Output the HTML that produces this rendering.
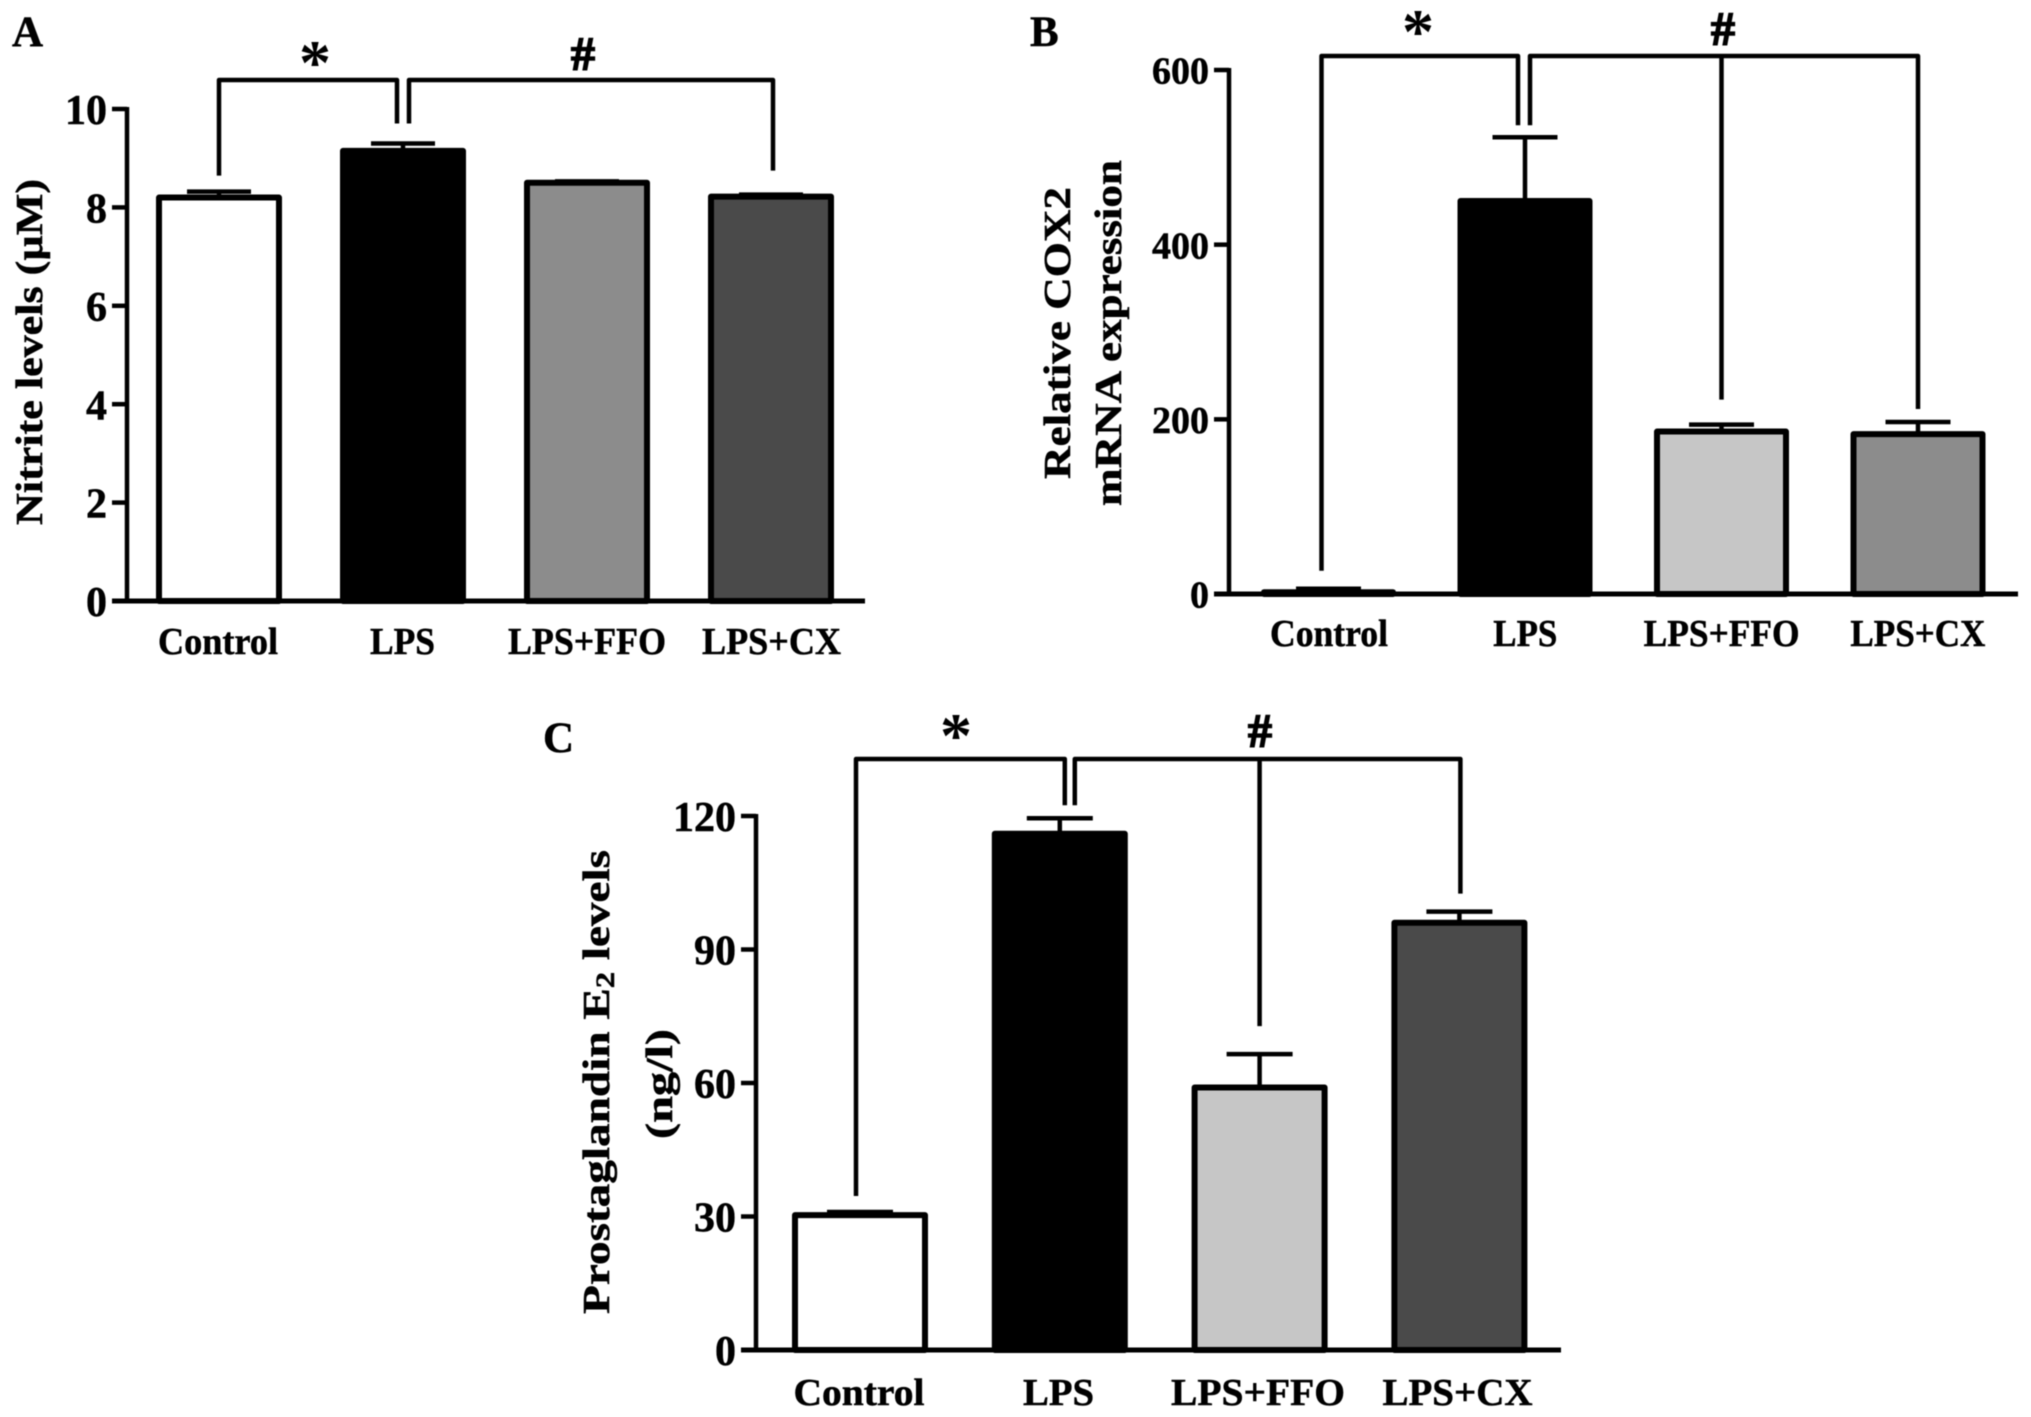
<!DOCTYPE html>
<html lang="en">
<head>
<meta charset="utf-8">
<title>Nitrite, COX2 and Prostaglandin E2 levels</title>
<style>
html,body{margin:0;padding:0;background:#fff;}
svg{display:block;filter:blur(0.6px);}
text{font-family:"Liberation Serif",serif;font-weight:bold;fill:#000;stroke:#000;stroke-width:0.5px;}
text.mark{stroke-width:1.6px;}
text.star{stroke-width:0;}
</style>
</head>
<body>
<svg id="figure" xmlns="http://www.w3.org/2000/svg" width="2031" height="1417" viewBox="0 0 2031 1417">
  <rect width="2031" height="1417" fill="#fff"/>

  <g id="panel-a">
    <text x="12" y="46" font-size="43">A</text>
    <text x="30" y="352" font-size="38" text-anchor="middle" textLength="346" lengthAdjust="spacingAndGlyphs" dominant-baseline="central" transform="rotate(-90 30 352)">Nitrite levels (µM)</text>
    <text class="star" x="315" y="84" font-size="64" text-anchor="middle">*</text>
    <text class="mark" x="583" y="70" font-size="48" text-anchor="middle">#</text>
  </g>

  <g id="panel-b">
    <text x="1030" y="46" font-size="43">B</text>
    <text x="1058" y="333" font-size="38" text-anchor="middle" textLength="292" lengthAdjust="spacingAndGlyphs" dominant-baseline="central" transform="rotate(-90 1058 333)">Relative COX2</text>
    <text x="1109" y="333" font-size="38" text-anchor="middle" textLength="346" lengthAdjust="spacingAndGlyphs" dominant-baseline="central" transform="rotate(-90 1109 333)">mRNA expression</text>
    <text class="star" x="1418" y="53" font-size="64" text-anchor="middle">*</text>
    <text class="mark" x="1723" y="45" font-size="48" text-anchor="middle">#</text>
  </g>

  <g id="panel-c">
    <text x="543" y="752" font-size="43">C</text>
    <text x="597" y="1082" font-size="38" text-anchor="middle" textLength="464" lengthAdjust="spacingAndGlyphs" dominant-baseline="central" transform="rotate(-90 597 1082)">Prostaglandin E<tspan font-size="26" dy="8">2</tspan><tspan dy="-8"> levels</tspan></text>
    <text x="660" y="1084" font-size="38" text-anchor="middle" textLength="110" lengthAdjust="spacingAndGlyphs" dominant-baseline="central" transform="rotate(-90 660 1084)">(ng/l)</text>
    <text class="star" x="956" y="757" font-size="64" text-anchor="middle">*</text>
    <text class="mark" x="1260" y="747" font-size="48" text-anchor="middle">#</text>
  </g>
</svg>

<script>
const categories = ["Control", "LPS", "LPS+FFO", "LPS+CX"];

const nitriteValues = [8.2, 9.15, 8.5, 8.22];
const nitriteErrorTops = [8.32, 9.3, 8.53, 8.26];
const nitriteTicks = [0, 2, 4, 6, 8, 10];
const nitriteFills = ["#ffffff", "#000000", "#8c8c8c", "#4a4a4a"];

const cox2Values = [2, 450, 186, 183];
const cox2ErrorTops = [6, 523, 194, 197];
const cox2Ticks = [0, 200, 400, 600];
const cox2Fills = ["#ffffff", "#000000", "#c6c6c6", "#8c8c8c"];

const pge2Values = [30.3, 116, 59, 96];
const pge2ErrorTops = [31, 119.5, 66.5, 98.5];
const pge2Ticks = [0, 30, 60, 90, 120];
const pge2Fills = ["#ffffff", "#000000", "#c6c6c6", "#4a4a4a"];

const SVGNS = "http://www.w3.org/2000/svg";

function line(parent, x1, y1, x2, y2, sw, name) {
  const el = document.createElementNS(SVGNS, "line");
  el.setAttribute("x1", x1);
  el.setAttribute("y1", y1);
  el.setAttribute("x2", x2);
  el.setAttribute("y2", y2);
  el.setAttribute("stroke", "#000");
  el.setAttribute("stroke-width", sw);
  
  
  parent.appendChild(el);
  return el;
}

function label(parent, str, x, y, size, anchor, length, name) {
  const el = document.createElementNS(SVGNS, "text");
  el.setAttribute("x", x);
  el.setAttribute("y", y);
  el.setAttribute("font-size", size);
  el.setAttribute("text-anchor", anchor);
  if (length) {
    el.setAttribute("textLength", length);
    el.setAttribute("lengthAdjust", "spacingAndGlyphs");
  }
  el.textContent = str;
  
  
  parent.appendChild(el);
  return el;
}

function legPath(parent, d, name) {
  const el = document.createElementNS(SVGNS, "path");
  el.setAttribute("d", d);
  el.setAttribute("fill", "none");
  el.setAttribute("stroke", "#000");
  el.setAttribute("stroke-width", 4.5);
  el.setAttribute("stroke-linejoin", "round");
  
  
  parent.appendChild(el);
  return el;
}

function drawPanel(cfg) {
  const g = document.getElementById(cfg.id);
  const yScale = function (v) {
    return cfg.y0 - (v / cfg.yMax) * (cfg.y0 - cfg.yTop);
  };
  const barLeft = function (i) {
    return cfg.firstBar + i * cfg.step;
  };
  const barCenter = function (i) {
    return barLeft(i) + cfg.barWidth / 2;
  };

  cfg.values.forEach(function (v, i) {
    const top = yScale(v);
    const errTop = yScale(cfg.errorTops[i]);
    const cx = barCenter(i);
    line(g, cx, top, cx, errTop, 4.5, cfg.prefix + "-error-stem-" + i);
    line(g, cx - cfg.capWidth / 2, errTop, cx + cfg.capWidth / 2, errTop, 4.5, cfg.prefix + "-error-cap-" + i);
    const bar = document.createElementNS(SVGNS, "rect");
    bar.setAttribute("x", barLeft(i) + 3);
    bar.setAttribute("y", top);
    bar.setAttribute("width", cfg.barWidth - 6);
    bar.setAttribute("height", cfg.y0 - top);
    bar.setAttribute("fill", cfg.fills[i]);
    bar.setAttribute("stroke", "#000");
    bar.setAttribute("stroke-width", 6);
    bar.setAttribute("stroke-linejoin", "round");
    
    
    g.appendChild(bar);
    label(g, categories[i], cfg.labelCenter(i), cfg.labelBaseline, 38, "middle", cfg.labelWidth(i), cfg.prefix + "-x-label-" + i);
  });

  line(g, cfg.axisX, cfg.yTop - 2, cfg.axisX, cfg.y0 + 2, 4.5, cfg.prefix + "-y-axis");
  line(g, cfg.axisX - 15, cfg.y0, cfg.axisEnd, cfg.y0, 5, cfg.prefix + "-x-axis");
  cfg.ticks.forEach(function (t, i) {
    const y = yScale(t);
    line(g, cfg.axisX - 15, y, cfg.axisX, y, 4.5, cfg.prefix + "-y-tick-" + i);
    label(g, String(t), cfg.axisX - 20, y + cfg.tickSize * 0.36, cfg.tickSize, "end", 0, cfg.prefix + "-y-tick-label-" + i);
  });

  const leg = function (i, gap) {
    return yScale(cfg.errorTops[i]) - gap;
  };
  const by = cfg.bracketY;
  const c = cfg.legGaps;
  const lx = barCenter(1) + cfg.legCenter - cfg.legOffset;
  const rx = barCenter(1) + cfg.legCenter + cfg.legOffset;
  const ax = barCenter(0) + cfg.leftNudge;
  const bx = barCenter(3) + cfg.rightNudge;
  legPath(g, "M" + ax + " " + leg(0, c.control) + "V" + by + "H" + lx + "V" + leg(1, c.lps), cfg.prefix + "-star-bracket");
  legPath(g, "M" + rx + " " + leg(1, c.lps) + "V" + by + "H" + bx + "V" + leg(3, c.cx), cfg.prefix + "-hash-bracket");
  if (c.ffo !== null) {
    line(g, barCenter(2), by, barCenter(2), leg(2, c.ffo), 4.5, cfg.prefix + "-hash-bracket-middle-leg");
  }
}

drawPanel({
  id: "panel-a", prefix: "panel-a",
  values: nitriteValues, errorTops: nitriteErrorTops, ticks: nitriteTicks, fills: nitriteFills,
  y0: 601, yTop: 109, yMax: 10, tickSize: 42,
  axisX: 127, axisEnd: 865,
  firstBar: 156, step: 184, barWidth: 126, capWidth: 64,
  bracketY: 80, legCenter: 0, legOffset: 6, leftNudge: 0, rightNudge: 2,
  legGaps: { control: 16, lps: 20, ffo: null, cx: 24 },
  labelBaseline: 654,
  labelCenter: function (i) { return 218 + i * 184.5; },
  labelWidth: function (i) { return [120, 65, 158, 139][i]; }
});

drawPanel({
  id: "panel-b", prefix: "panel-b",
  values: cox2Values, errorTops: cox2ErrorTops, ticks: cox2Ticks, fills: cox2Fills,
  y0: 594, yTop: 70, yMax: 600, tickSize: 38,
  axisX: 1229, axisEnd: 2018,
  firstBar: 1261, step: 196.5, barWidth: 135, capWidth: 65,
  bracketY: 56, legCenter: -1, legOffset: 6, leftNudge: -7, rightNudge: 0,
  legGaps: { control: 18, lps: 12, ffo: 25, cx: 13 },
  labelBaseline: 646,
  labelCenter: function (i) { return 1329 + i * 196.3; },
  labelWidth: function (i) { return [118, 64, 156, 135][i]; }
});

drawPanel({
  id: "panel-c", prefix: "panel-c",
  values: pge2Values, errorTops: pge2ErrorTops, ticks: pge2Ticks, fills: pge2Fills,
  y0: 1350, yTop: 816, yMax: 120, tickSize: 42,
  axisX: 756, axisEnd: 1561,
  firstBar: 792, step: 199.8, barWidth: 136, capWidth: 66,
  bracketY: 759, legCenter: 10, legOffset: 5, leftNudge: -4, rightNudge: 1,
  legGaps: { control: 16, lps: 13, ffo: 28, cx: 18 },
  labelBaseline: 1405,
  labelCenter: function (i) { return 859 + i * 199.5; },
  labelWidth: function (i) { return [131, 71, 174, 150][i]; }
});
</script>
</body>
</html>
